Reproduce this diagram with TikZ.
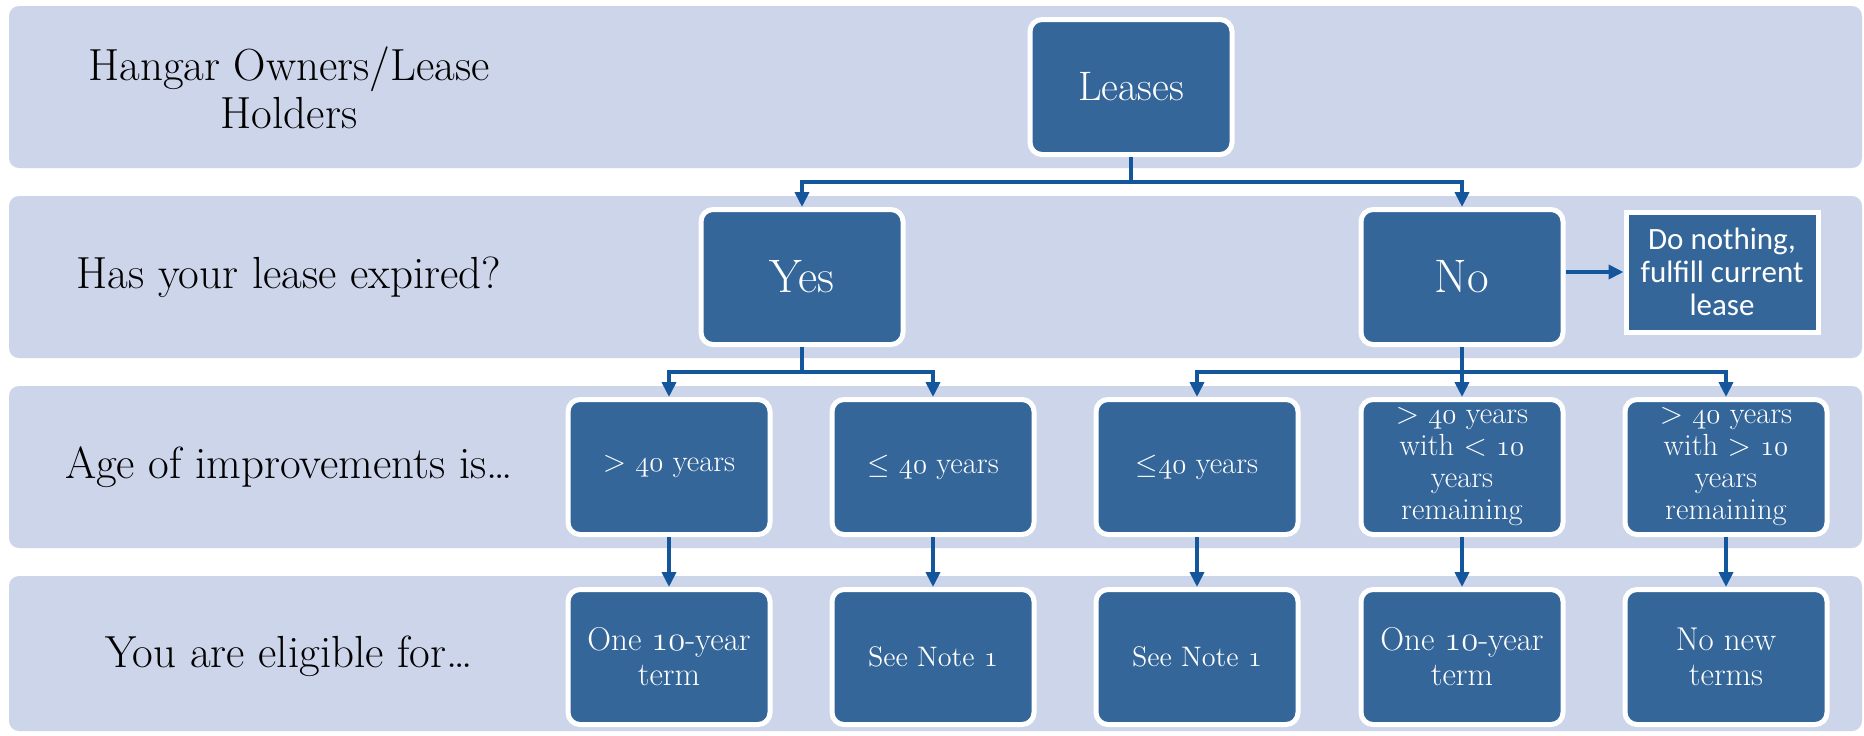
\documentclass[tikz,border=0pt]{standalone}
\usepackage{fontspec}
\newfontfamily\calibrifont{Carlito}
\usetikzlibrary{arrows.meta}
\definecolor{band}{RGB}{205,213,234}
\definecolor{boxblue}{RGB}{52,102,153}
\definecolor{arrowblue}{RGB}{20,86,156}
\newcommand\osn[1]{{\usefont{OML}{lmm}{m}{it}#1}}
\begin{document}
\begin{tikzpicture}[x=0.5pt,y=-0.5pt,
  bandbox/.style={fill=band, rounded corners=5pt},
  flowbox/.style={draw=white, line width=2.5pt, fill=boxblue, rounded corners=6pt,
    minimum width=101pt, minimum height=67.5pt, inner sep=0pt, text=white, align=center},
  dnbox/.style={draw=white, line width=2.5pt, fill=boxblue,
    minimum width=96pt, minimum height=60pt, inner sep=0pt, text=white, align=center,
    font=\calibrifont\fontsize{15.5}{16.4}\selectfont},
  big/.style={font=\fontsize{23.5}{26}\selectfont},
  midtxt/.style={font=\fontsize{15.3}{16}\selectfont},
  lowtxt/.style={font=\fontsize{16.5}{17.5}\selectfont},
  notetxt/.style={font=\fontsize{14.1}{16}\selectfont},
  sidelabel/.style={align=center, font=\fontsize{22.5}{24}\selectfont},
  arr/.style={draw=arrowblue, line width=2pt, -{Triangle[width=7pt,length=7.5pt]}}
]
\fill[white] (0,0) rectangle (1864,735);
\useasboundingbox (0,0) rectangle (1864,735);

% bands
\path[bandbox] (9,6) rectangle (1862,168);
\path[bandbox] (9,196) rectangle (1862,358);
\path[bandbox] (9,386) rectangle (1862,548);
\path[bandbox] (9,576) rectangle (1862,731);

% side labels
\node[sidelabel] (l1) at (289,88) {Hangar Owners/Lease\\Holders};
\node[sidelabel] (l2) at (289,277) {Has your lease expired?};
\node[sidelabel] (l3) at (289,467) {Age of improvements is\textellipsis};
\node[sidelabel] (l4) at (289,656) {You are eligible for\textellipsis};

% boxes
\node[flowbox, font=\fontsize{20.6}{22}\selectfont] (leases) at (1131,87) {Leases};
\node[flowbox, big] (yes) at (802,277) {Yes};
\node[flowbox, big] (no) at (1462,277) {No};
\node[dnbox] (nothing) at (1722,272) {Do nothing,\\fulfill current\\lease};

\node[flowbox, midtxt] (a1) at (669,467) {> \osn{40} years};
\node[flowbox, midtxt] (a2) at (933,467) {$\leq$ \osn{40} years};
\node[flowbox, midtxt] (a3) at (1197,467) {$\leq$\osn{40} years};
\node[flowbox, midtxt] (a4) at (1462,467) {> \osn{40} years\\with < \osn{10}\\years\\remaining};
\node[flowbox, midtxt] (a5) at (1726,467) {> \osn{40} years\\with > \osn{10}\\years\\remaining};

\node[flowbox, lowtxt] (c1) at (669,657) {One \osn{10}-year\\term};
\node[flowbox, notetxt] (c2) at (933,657) {See Note \osn{1}};
\node[flowbox, notetxt] (c3) at (1197,657) {See Note \osn{1}};
\node[flowbox, lowtxt] (c4) at (1462,657) {One \osn{10}-year\\term};
\node[flowbox, lowtxt] (c5) at (1726,657) {No new\\terms};

% connectors
\draw[arr] (leases.south) -- ++(0,25) -| (yes.north);
\draw[arr] (leases.south) -- ++(0,25) -| (no.north);
\draw[arr] (no.east |- nothing.west) -- (nothing.west);

\draw[arr] (yes.south) -- ++(0,25) -| (a1.north);
\draw[arr] (yes.south) -- ++(0,25) -| (a2.north);
\draw[arr] (no.south) -- ++(0,25) -| (a3.north);
\draw[arr] (no.south) -- (a4.north);
\draw[arr] (no.south) -- ++(0,25) -| (a5.north);

\draw[arr] (a1.south) -- (c1.north);
\draw[arr] (a2.south) -- (c2.north);
\draw[arr] (a3.south) -- (c3.north);
\draw[arr] (a4.south) -- (c4.north);
\draw[arr] (a5.south) -- (c5.north);
\end{tikzpicture}
\end{document}
